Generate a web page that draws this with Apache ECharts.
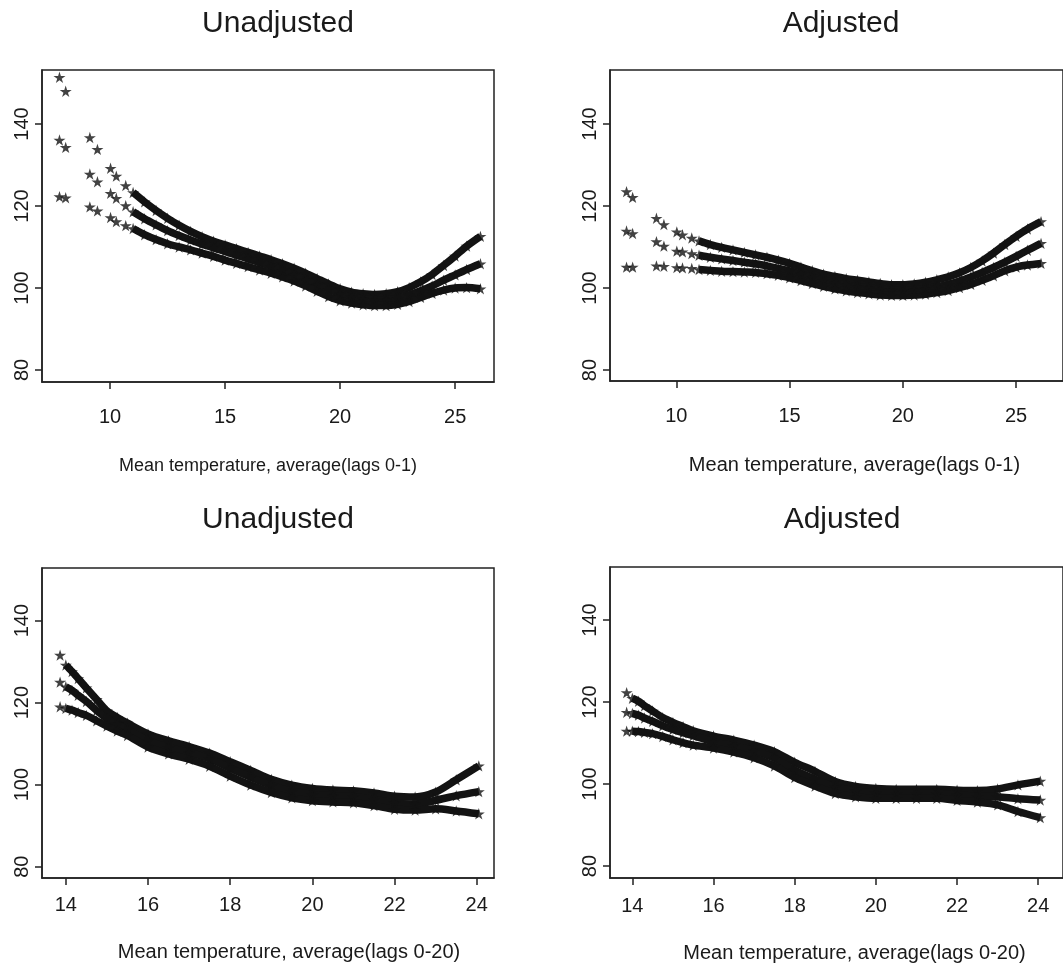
<!DOCTYPE html>
<html><head><meta charset="utf-8">
<script src="https://cdn.jsdelivr.net/npm/echarts@6/dist/echarts.min.js"></script>
<style>html,body{margin:0;padding:0;background:#fff}#c{width:1063px;height:968px}</style>
</head><body><div id="c"></div>
<script>
// ---------------- data ----------------
const panelTitles = ['Unadjusted', 'Adjusted', 'Unadjusted', 'Adjusted'];
const xAxisNames = [
  'Mean temperature, average(lags 0-1)',
  'Mean temperature, average(lags 0-1)',
  'Mean temperature, average(lags 0-20)',
  'Mean temperature, average(lags 0-20)'
];
const xTicksLag01 = [10, 15, 20, 25];
const xTicksLag020 = [14, 16, 18, 20, 22, 24];
const yTicks = [80, 100, 120, 140];

// observed temperatures (first ones are isolated points)
const tempLag01 = [7.8, 8.07, 9.12, 9.45, 10.02, 10.27, 10.68,
  11.0, 11.5, 12.0, 12.5, 13.0, 13.5, 14.0, 14.5, 15.0, 15.5, 16.0, 16.5, 17.0, 17.5,
  18.0, 18.5, 19.0, 19.5, 20.0, 20.5, 21.0, 21.5, 22.0, 22.5, 23.0, 23.5, 24.0, 24.5,
  25.0, 25.5, 26.1];
const isolatedLag01 = 7;   // number of isolated observations before the continuous band

const tempLag020 = [13.86,
  14.0, 14.15, 14.3, 14.5, 14.75, 15.0, 15.25, 15.5, 16.0, 16.5, 17.0, 17.5, 18.0, 18.5,
  19.0, 19.5, 20.0, 20.5, 21.0, 21.5, 22.0, 22.5, 23.0, 23.5, 24.05];
const isolatedLag020 = 1;

// Unadjusted, lags 0-1
const unadj01Upper = [151.4, 148.0, 136.7, 133.8, 129.2, 127.3, 125.0,
  123.3, 121.0, 118.9, 117.0, 115.3, 113.8, 112.5, 111.4, 110.5, 109.6, 108.7, 107.8, 106.9, 105.9,
  104.8, 103.6, 102.3, 101.0, 99.8, 99.0, 98.6, 98.4, 98.6, 99.1, 100.1, 101.5, 103.3, 105.5,
  107.8, 110.2, 112.6];
const unadj01Mid = [136.1, 134.3, 127.8, 125.9, 123.1, 121.9, 120.1,
  118.6, 116.9, 115.4, 114.0, 112.8, 111.7, 110.7, 109.8, 108.9, 108.0, 107.1, 106.2, 105.3, 104.3,
  103.2, 102.0, 100.8, 99.7, 98.6, 97.8, 97.3, 97.1, 97.1, 97.5, 98.3, 99.3, 100.5, 101.9,
  103.2, 104.5, 105.9];
const unadj01Lower = [122.3, 122.0, 119.8, 118.8, 117.2, 116.2, 115.2,
  114.5, 113.0, 111.8, 110.8, 110.0, 109.3, 108.5, 107.7, 106.8, 106.0, 105.2, 104.4, 103.6, 102.7,
  101.7, 100.5, 99.2, 97.9, 96.9, 96.3, 95.9, 95.7, 95.7, 96.0, 96.7, 97.7, 98.7, 99.5,
  100.0, 100.1, 99.8];

// Adjusted, lags 0-1
const adj01Upper = [123.5, 122.1, 117.0, 115.5, 113.7, 113.0, 112.2,
  111.5, 110.6, 109.9, 109.3, 108.7, 108.1, 107.5, 106.8, 106.0, 105.1, 104.2, 103.4, 102.8, 102.3,
  101.9, 101.5, 101.1, 100.8, 100.8, 101.0, 101.4, 102.0, 102.7, 103.7, 105.0, 106.6, 108.5, 110.6,
  112.6, 114.4, 116.2];
const adj01Mid = [113.9, 113.3, 111.3, 110.2, 109.0, 108.8, 108.4,
  108.0, 107.5, 107.1, 106.7, 106.3, 105.9, 105.4, 104.8, 104.2, 103.4, 102.6, 101.9, 101.2, 100.7,
  100.3, 100.0, 99.7, 99.5, 99.4, 99.5, 99.8, 100.3, 100.9, 101.7, 102.7, 103.8, 105.0, 106.3,
  107.7, 109.2, 110.9];
const adj01Lower = [105.1, 105.1, 105.4, 105.3, 105.0, 104.9, 104.8,
  104.5, 104.3, 104.1, 104.0, 103.9, 103.8, 103.5, 103.1, 102.5, 101.8, 101.1, 100.4, 99.8, 99.3,
  98.9, 98.6, 98.3, 98.2, 98.2, 98.3, 98.5, 98.9, 99.4, 100.1, 100.9, 101.9, 103.0, 104.2,
  105.1, 105.6, 106.0];

// Unadjusted, lags 0-20
const unadj020Upper = [131.6, 129.2, 127.6, 125.9, 123.6, 120.8, 118.0, 116.4, 115.0, 112.4, 110.7, 109.3,
  107.7, 105.6, 103.5, 101.3, 99.9, 99.1, 98.7, 98.5, 98.0, 97.2, 97.0, 98.2, 101.2, 104.6];
const unadj020Mid = [125.0, 123.9, 123.0, 121.8, 120.3, 118.1, 116.1, 114.8, 113.5, 110.8, 109.1, 107.8,
  106.3, 104.0, 101.8, 99.8, 98.4, 97.6, 97.3, 97.1, 96.4, 95.5, 95.3, 96.2, 97.3, 98.3];
const unadj020Lower = [119.0, 118.6, 118.2, 117.6, 116.9, 115.6, 114.3, 113.1, 112.0, 109.2, 107.5, 106.2,
  104.5, 102.1, 99.9, 98.1, 96.8, 96.1, 95.8, 95.6, 94.9, 94.0, 93.8, 94.1, 93.6, 92.9];

// Adjusted, lags 0-20
const adj020Upper = [122.3, 120.9, 120.2, 119.1, 117.8, 116.2, 115.0, 114.0, 113.0, 111.7, 110.7, 109.5,
  107.9, 105.3, 103.1, 100.6, 99.4, 98.9, 98.7, 98.7, 98.7, 98.5, 98.4, 98.8, 99.8, 100.7];
const adj020Mid = [117.5, 117.2, 116.8, 116.1, 115.3, 114.2, 113.3, 112.5, 111.8, 110.3, 109.3, 108.1,
  106.3, 103.4, 101.2, 99.3, 98.3, 97.8, 97.7, 97.7, 97.7, 97.3, 97.0, 96.9, 96.4, 96.1];
const adj020Lower = [112.9, 112.9, 112.8, 112.6, 112.3, 111.6, 110.8, 110.1, 109.5, 108.8, 107.8, 106.4,
  104.4, 101.6, 99.5, 97.7, 96.9, 96.5, 96.5, 96.5, 96.5, 96.0, 95.6, 94.9, 93.3, 91.8];

// ---------------- chart ----------------
const FONT = "'Liberation Sans', Arial, Helvetica, sans-serif";
const INK = '#131313';
const STAR = 'path://M50,0 L61,35 L98,35 L68,57 L79,91 L50,70 L21,91 L32,57 L2,35 L39,35 Z';

const panels = [
  { x: tempLag01, iso: isolatedLag01, ys: [unadj01Upper, unadj01Mid, unadj01Lower], ticks: xTicksLag01,
    grid: { left: 42, top: 70, width: 452, height: 312 }, xr: [7.04, 26.69], yr: [77.07, 153.17],
    title: [273, 4], nameGap: 75, namePad: 0, nameSize: 18, tickMargin: 25 },
  { x: tempLag01, iso: isolatedLag01, ys: [adj01Upper, adj01Mid, adj01Lower], ticks: xTicksLag01,
    grid: { left: 610, top: 70, width: 456, height: 311 }, xr: [7.07, 27.07], yr: [77.32, 153.17],
    title: [836, 4], nameGap: 74, namePad: 36, nameSize: 20, tickMargin: 25 },
  { x: tempLag020, iso: isolatedLag020, ys: [unadj020Upper, unadj020Mid, unadj020Lower], ticks: xTicksLag020,
    grid: { left: 42, top: 568, width: 452, height: 310 }, xr: [13.42, 24.42], yr: [77.24, 152.85],
    title: [273, 500], nameGap: 64, namePad: 42, nameSize: 20, tickMargin: 17 },
  { x: tempLag020, iso: isolatedLag020, ys: [adj020Upper, adj020Mid, adj020Lower], ticks: xTicksLag020,
    grid: { left: 610, top: 567, width: 456, height: 311 }, xr: [13.45, 24.61], yr: [77.08, 152.93],
    title: [837, 500], nameGap: 65, namePad: 36, nameSize: 20, tickMargin: 18 }
];

const option = {
  backgroundColor: '#fff',
  animation: false,
  title: [], grid: [], xAxis: [], yAxis: [], series: []
};

panels.forEach((p, i) => {
  option.title.push({
    text: panelTitles[i], left: p.title[0], top: p.title[1], textAlign: 'center',
    textStyle: { fontFamily: FONT, fontSize: 30, fontWeight: 'normal', color: '#1a1a1a' }
  });
  option.grid.push(Object.assign({ show: true, borderColor: '#222', borderWidth: 1.5, backgroundColor: '#fff' }, p.grid));
  option.xAxis.push({
    gridIndex: i, type: 'value', min: p.xr[0], max: p.xr[1],
    name: xAxisNames[i], nameLocation: 'middle', nameGap: p.nameGap,
    nameTextStyle: { fontFamily: FONT, fontSize: p.nameSize, color: '#1a1a1a', padding: [0, 0, 0, p.namePad] },
    axisLine: { show: true, onZero: false, lineStyle: { color: '#222', width: 1.5 } },
    axisTick: { show: true, length: 7, customValues: p.ticks, lineStyle: { color: '#222', width: 1.5 } },
    axisLabel: { customValues: p.ticks, fontFamily: FONT, fontSize: 20, color: '#1a1a1a', margin: p.tickMargin },
    splitLine: { show: false }
  });
  option.yAxis.push({
    gridIndex: i, type: 'value', min: p.yr[0], max: p.yr[1],
    axisLine: { show: true, onZero: false, lineStyle: { color: '#222', width: 1.5 } },
    axisTick: { show: true, length: 7, customValues: yTicks, lineStyle: { color: '#222', width: 1.5 } },
    axisLabel: { customValues: yTicks, rotate: 90, fontFamily: FONT, fontSize: 20, color: '#1a1a1a', margin: 10 },
    splitLine: { show: false }
  });
  p.ys.forEach(ys => {
    option.series.push({
      type: 'line', xAxisIndex: i, yAxisIndex: i, silent: true, smooth: 0.3,
      showSymbol: false, lineStyle: { color: INK, width: 7.5 },
      data: p.x.slice(p.iso).map((x, k) => [x, ys[p.iso + k]]), z: 2
    });
    option.series.push({
      type: 'scatter', xAxisIndex: i, yAxisIndex: i, silent: true,
      symbol: STAR, symbolKeepAspect: true, symbolSize: 12,
      itemStyle: { color: INK },
      data: p.x.map((x, k) => [x, ys[k]]), z: 3
    });
  });
});

const chart = echarts.init(document.getElementById('c'), null, { renderer: 'canvas' });
chart.setOption(option);
</script></body></html>
